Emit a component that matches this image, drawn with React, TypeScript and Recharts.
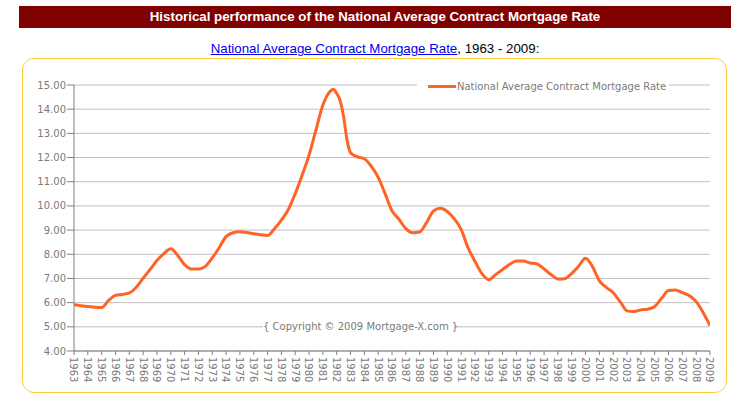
import React from 'react';
import { LineChart, Line, XAxis, YAxis, CartesianGrid } from 'recharts';

const years: number[] = [
  1963, 1963.5, 1964, 1964.5, 1965, 1965.5, 1966, 1966.5, 1967, 1967.5,
  1968, 1968.5, 1969, 1969.5, 1970, 1970.5, 1971, 1971.5, 1972, 1972.5,
  1973, 1973.5, 1974, 1974.5, 1975, 1975.5, 1976, 1976.5, 1977, 1977.5,
  1978, 1978.5, 1979, 1979.5, 1980, 1980.5, 1981, 1981.5, 1981.75, 1982,
  1982.25, 1982.5, 1982.75, 1983, 1983.5, 1984, 1984.5, 1985, 1985.5, 1986,
  1986.5, 1987, 1987.5, 1988, 1988.5, 1989, 1989.5, 1990, 1990.5, 1991,
  1991.5, 1992, 1992.5, 1993, 1993.5, 1994, 1994.5, 1995, 1995.5, 1996,
  1996.5, 1997, 1997.5, 1998, 1998.5, 1999, 1999.5, 2000, 2000.5, 2001,
  2001.5, 2002, 2002.5, 2003, 2003.5, 2004, 2004.5, 2005, 2005.5, 2006,
  2006.5, 2007, 2007.5, 2008, 2008.5, 2009,
];

const rates: number[] = [
  5.91, 5.87, 5.84, 5.81, 5.8, 6.09, 6.3, 6.34, 6.4, 6.64,
  7.01, 7.37, 7.74, 8.03, 8.23, 7.95, 7.57, 7.39, 7.39, 7.5,
  7.85, 8.27, 8.73, 8.89, 8.93, 8.9, 8.85, 8.81, 8.78, 9.06,
  9.41, 9.85, 10.51, 11.27, 12.1, 13.14, 14.17, 14.72, 14.82, 14.65,
  14.35, 13.69, 12.72, 12.2, 12.03, 11.95, 11.64, 11.18, 10.51, 9.8,
  9.45, 9.06, 8.89, 8.92, 9.31, 9.79, 9.9, 9.77, 9.47, 9.03,
  8.27, 7.71, 7.2, 6.95, 7.16, 7.37, 7.58, 7.72, 7.72, 7.64,
  7.6, 7.39, 7.16, 6.98, 6.99, 7.21, 7.51, 7.84, 7.49, 6.9,
  6.63, 6.41, 6.04, 5.66, 5.63, 5.7, 5.73, 5.84, 6.18, 6.5,
  6.52, 6.41, 6.29, 6.04, 5.59, 5.05,
];

const yearTicks: number[] = [
  1963, 1964, 1965, 1966, 1967, 1968, 1969, 1970, 1971, 1972, 1973, 1974,
  1975, 1976, 1977, 1978, 1979, 1980, 1981, 1982, 1983, 1984, 1985, 1986,
  1987, 1988, 1989, 1990, 1991, 1992, 1993, 1994, 1995, 1996, 1997, 1998,
  1999, 2000, 2001, 2002, 2003, 2004, 2005, 2006, 2007, 2008, 2009,
];

const rateTicks: number[] = [4, 5, 6, 7, 8, 9, 10, 11, 12, 13, 14, 15];

const seriesName = 'National Average Contract Mortgage Rate';
const headerTitle = 'Historical performance of the National Average Contract Mortgage Rate';
const subtitleLink = 'National Average Contract Mortgage Rate';
const subtitleRest = ', 1963 - 2009:';
const copyrightText = '{ Copyright \u00A9 2009 Mortgage-X.com }';

const data = years.map((y, i) => ({ year: y, rate: rates[i] }));

const LINE_COLOR = '#FF6326';
const AXIS_COLOR = '#808080';
const TEXT_COLOR = '#7a7a7a';
const GRID_COLOR = '#C0C0C0';
const FONT = '"DejaVu Sans", Verdana, sans-serif';

const XTick = (props: any) => {
  const { x, y, payload } = props;
  return (
    <text
      x={x}
      y={y}
      transform={`rotate(90 ${x} ${y})`}
      dy="0.36em"
      textAnchor="start"
      fill={TEXT_COLOR}
      fontSize={10}
      fontFamily={FONT}
    >
      {payload.value}
    </text>
  );
};

export default function App() {
  return (
    <div
      style={{
        position: 'absolute',
        left: 0,
        top: 0,
        width: 731,
        height: 396,
        background: '#fff',
        overflow: 'hidden',
      }}
    >
      <div
        style={{
          position: 'absolute',
          left: 19,
          top: 6,
          width: 712,
          height: 22,
          background: '#800000',
          color: '#fff',
          fontFamily: '"Liberation Sans", Arial, sans-serif',
          fontWeight: 'bold',
          fontSize: 13.3,
          lineHeight: '22px',
          textAlign: 'center',
          whiteSpace: 'nowrap',
        }}
      >
        {headerTitle}
      </div>
      <div
        style={{
          position: 'absolute',
          left: 19,
          top: 41,
          width: 712,
          fontFamily: '"Liberation Sans", Arial, sans-serif',
          fontSize: 13.3,
          lineHeight: '16px',
          textAlign: 'center',
          color: '#000',
          whiteSpace: 'nowrap',
        }}
      >
        <span style={{ color: '#0000EE', textDecoration: 'underline' }}>{subtitleLink}</span>
        {subtitleRest}
      </div>
      <div
        style={{
          position: 'absolute',
          left: 22,
          top: 58,
          width: 703,
          height: 333,
          border: '1px solid #FFCC33',
          borderRadius: 12,
        }}
      />
      <div style={{ position: 'absolute', left: 0, top: 0 }}>
        <LineChart
          width={731}
          height={396}
          data={data}
          margin={{ top: 85, right: 21, left: 24, bottom: 5 }}
        >
          <CartesianGrid horizontal vertical={false} stroke={GRID_COLOR} strokeWidth={1} />
          <XAxis
            dataKey="year"
            type="number"
            domain={[1963, 2009]}
            ticks={yearTicks}
            interval={0}
            tick={<XTick />}
            tickSize={4}
            tickMargin={2}
            height={40}
            stroke={AXIS_COLOR}
            tickLine={{ stroke: AXIS_COLOR }}
            axisLine={{ stroke: AXIS_COLOR, strokeWidth: 1 }}
            allowDataOverflow
          />
          <YAxis
            type="number"
            domain={[4, 15]}
            ticks={rateTicks}
            interval={0}
            width={50}
            tickSize={7}
            tickMargin={1}
            tickFormatter={(v: number) => v.toFixed(2)}
            tick={{ fill: TEXT_COLOR, fontSize: 10, fontFamily: FONT }}
            stroke={AXIS_COLOR}
            axisLine={{ stroke: AXIS_COLOR, strokeWidth: 1 }}
            tickLine={{ stroke: AXIS_COLOR }}
            allowDataOverflow
          />
          <Line
            type="monotone"
            dataKey="rate"
            name={seriesName}
            stroke={LINE_COLOR}
            strokeWidth={3}
            dot={false}
            activeDot={false}
            isAnimationActive={false}
          />
        </LineChart>
      </div>
      <div
        style={{
          position: 'absolute',
          left: 417,
          top: 79,
          width: 252,
          height: 14,
          background: '#fff',
          display: 'flex',
          alignItems: 'center',
          fontFamily: FONT,
          fontSize: 10,
          color: TEXT_COLOR,
          whiteSpace: 'nowrap',
        }}
      >
        <div style={{ width: 11 }} />
        <div style={{ width: 28, height: 3, background: LINE_COLOR, marginRight: 1 }} />
        <span>{seriesName}</span>
      </div>
      <div
        style={{
          position: 'absolute',
          left: 263,
          top: 320,
          width: 192,
          height: 14,
          background: '#fff',
          textAlign: 'center',
          fontFamily: FONT,
          fontSize: 10,
          lineHeight: '14px',
          color: TEXT_COLOR,
          whiteSpace: 'nowrap',
        }}
      >
        {copyrightText}
      </div>
    </div>
  );
}
